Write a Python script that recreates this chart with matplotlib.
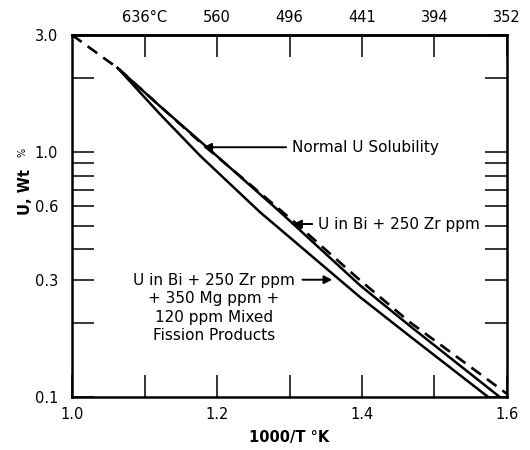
import numpy as np
import matplotlib.pyplot as plt
from matplotlib.ticker import FixedLocator, NullFormatter

plt.rcParams['font.family'] = ['DejaVu Sans']

# dashed curve
x_dash = [1.0, 1.063, 1.181, 1.305, 1.397, 1.466, 1.60]
y_dash = [3.0, 2.20, 1.068, 0.523, 0.300, 0.202, 0.103]
# upper solid curve
x_up = [1.063, 1.121, 1.181, 1.287, 1.397, 1.466, 1.590]
y_up = [2.20, 1.54, 1.078, 0.569, 0.286, 0.195, 0.100]
# lower solid curve
x_low = [1.063, 1.121, 1.177, 1.259, 1.397, 1.466, 1.574]
y_low = [2.20, 1.43, 0.963, 0.569, 0.256, 0.177, 0.100]

x_major = [1.0, 1.2, 1.4, 1.6]
x_major_lab = ['1.0', '1.2', '1.4', '1.6']
x_minor = [1.1, 1.3, 1.5]
top_pos = [1.1, 1.2, 1.3, 1.4, 1.5, 1.6]
top_lab = ['636°C', '560', '496', '441', '394', '352']
y_major = [0.1, 0.3, 0.6, 1.0, 3.0]
y_major_lab = ['0.1', '0.3', '0.6', '1.0', '3.0']
y_minor = [0.2, 0.4, 0.5, 0.7, 0.8, 0.9, 2.0]

fig = plt.figure(figsize=(5.3, 4.5), dpi=100)
ax = fig.add_axes([72/530, 1-397/450, 435/530, 362/450])

ax.plot(x_dash, y_dash, 'k--', lw=1.9, dashes=(4.5, 2.8))
ax.plot(x_up, y_up, 'k-', lw=1.8)
ax.plot(x_low, y_low, 'k-', lw=1.8)

ax.set_yscale('log')
ax.set_xlim(1.0, 1.6)
ax.set_ylim(0.1, 3.0)

ax.xaxis.set_major_locator(FixedLocator(x_major))
ax.set_xticklabels(x_major_lab)
ax.xaxis.set_minor_locator(FixedLocator(x_minor))
ax.yaxis.set_major_locator(FixedLocator(y_major))
ax.set_yticklabels(y_major_lab)
ax.yaxis.set_minor_locator(FixedLocator(y_minor))
ax.yaxis.set_minor_formatter(NullFormatter())

ax.tick_params(which='both', direction='in', length=16, width=1.1,
               right=True, labelsize=10.5)
ax.tick_params(axis='x', which='both', pad=7)
ax.tick_params(axis='y', which='both', pad=10)
for s in ax.spines.values():
    s.set_linewidth(1.8)

sec = ax.secondary_xaxis('top')
sec.set_xticks(top_pos, top_lab)
sec.tick_params(direction='in', length=16, width=1.1, labelsize=10.5, pad=7)
sec.spines['top'].set_linewidth(1.8)

ax.set_xlabel('1000/T °K', fontsize=10.5, fontweight='bold', labelpad=6)
fig.text(26/530, 1-192/450, 'U, Wt', rotation=90, fontsize=10.5,
         fontweight='bold', ha='center', va='center')
fig.text(22/530, 1-152/450, '%', rotation=90, fontsize=7,
         ha='center', va='center')

arrow = dict(arrowstyle='-|>', lw=1.4, color='k', mutation_scale=12,
             shrinkA=2, shrinkB=0)
ax.annotate('Normal U Solubility', xy=(1.181, 1.045), xytext=(1.303, 1.045),
            ha='left', va='center', fontsize=11, arrowprops=arrow)
ax.annotate('U in Bi + 250 Zr ppm', xy=(1.305, 0.508), xytext=(1.339, 0.508),
            ha='left', va='center', fontsize=11, arrowprops=arrow)
ax.text(1.196, 0.320, 'U in Bi + 250 Zr ppm\n+ 350 Mg ppm +\n120 ppm Mixed\nFission Products',
        ha='center', va='top', fontsize=11, linespacing=1.27,
        transform=ax.transData)
ax.annotate('', xy=(1.359, 0.301), xytext=(1.314, 0.301), arrowprops=arrow)

fig.savefig('out.png', dpi=100)
